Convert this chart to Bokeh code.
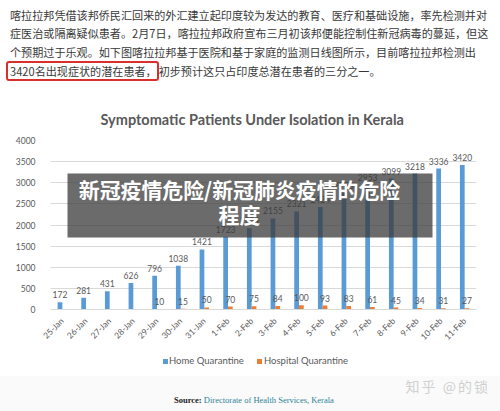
import numpy as np
from math import pi
from bokeh.plotting import figure
from bokeh.models import (ColumnDataSource, FactorRange, Range1d, FixedTicker,
                          BoxAnnotation, Label, Div)
from bokeh.transform import dodge
from bokeh.layouts import column
from bokeh.core.properties import value
from bokeh.embed import file_html
from bokeh.resources import INLINE

# ---------------- data ----------------
dates = ["25-Jan", "26-Jan", "27-Jan", "28-Jan", "29-Jan", "30-Jan", "31-Jan",
         "1-Feb", "2-Feb", "3-Feb", "4-Feb", "5-Feb", "6-Feb", "7-Feb",
         "8-Feb", "9-Feb", "10-Feb", "11-Feb"]
home = [172, 281, 431, 626, 796, 1038, 1421, 1723, 1924, 2155, 2321, 2424,
        2755, 2953, 3099, 3218, 3336, 3420]
hospital = [None, None, None, None, 10, 15, 50, 70, 75, 84, 100, 93, 83, 61,
            45, 34, 31, 27]
y_ticks = [0, 500, 1000, 1500, 2000, 2500, 3000, 3500, 4000]

paragraph = [
    "喀拉拉邦凭借该邦侨民汇回来的外汇建立起印度较为发达的教育、医疗和基础设施，率先检测并对",
    "症医治或隔离疑似患者。2月7日，喀拉拉邦政府宣布三月初该邦便能控制住新冠病毒的蔓延，但这",
    "个预期过于乐观。如下图喀拉拉邦基于医院和基于家庭的监测日线图所示，目前喀拉拉邦检测出",
]
highlight = "3420名出现症状的潜在患者，"
last_line_rest = "初步预计这只占印度总潜在患者的三分之一。"
chart_title = "Symptomatic Patients Under Isolation in Kerala"
series_names = ["Home Quarantine", "Hospital Quarantine"]
series_colors = ["#5b9bd5", "#ed7d31"]
overlay_lines = ["新冠疫情危险/新冠肺炎疫情的危险", "程度"]
source_label = "Source:"
source_text = "Directorate of Health Services, Kerala"
watermark = "知乎 @的锁"

W = 500
TOP_H = 93                              # paragraph block height
FL, FR, FT, FB = 50, 476, 140, 309      # chart frame edges (page pixels)
CHART_BOTTOM = 350                      # end of the bokeh canvas
LEGEND_BOTTOM = 376
PAGE_H = 411
CJK = "Noto Sans CJK SC"
LATO = "Lato"
GREY = "#595959"
NCAT = len(dates)
YMAX = y_ticks[-1]


def fx(px):
    """page x pixel -> synthetic x coordinate (decorations only)"""
    return (px - FL) * NCAT / (FR - FL)


def fy(py):
    """page y pixel (from top) -> data y (decorations only)"""
    return YMAX * (FB - py) / (FB - FT)


# ---------------- paragraph above the chart ----------------
lines_html = "<br>".join(paragraph)
top_html = (
    f"<div style=\"font-family:'{CJK}';font-size:11.1px;color:#383838;"
    f"line-height:18.7px;padding:5.6px 0 0 10px;white-space:nowrap;\">"
    f"{lines_html}<br>"
    f"<span style=\"border:2px solid #d9302c;border-radius:3px;"
    f"margin-left:-4px;padding:0 0 0 2px;\">{highlight}</span>{last_line_rest}"
    f"</div>"
)
top_div = Div(text=top_html, width=W, height=TOP_H, margin=0,
              styles={"overflow": "hidden", "background-color": "white"})

# ---------------- chart ----------------
hosp_arr = np.array([np.nan if v is None else v for v in hospital], dtype=float)
src = ColumnDataSource(dict(
    date=dates,
    home=home,
    hospital=hosp_arr,
    home_lbl=[str(v) for v in home],
    hosp_lbl=["" if v is None else str(v) for v in hospital],
))

p = figure(frame_width=FR - FL, frame_height=FB - FT,
           x_range=FactorRange(*dates), y_range=Range1d(0, YMAX),
           output_backend="svg", toolbar_location=None, title=chart_title,
           min_border_left=FL, min_border_right=W - FR,
           min_border_top=FT - TOP_H, min_border_bottom=CHART_BOTTOM - FB,
           margin=0)
p.background_fill_color = "white"
p.border_fill_color = "white"
p.outline_line_color = None

p.vbar(x=dodge("date", -0.1, range=p.x_range), top="home", width=0.2,
       source=src, fill_color=series_colors[0], line_color=None)
p.vbar(x=dodge("date", 0.1, range=p.x_range), top="hospital", width=0.2,
       source=src, fill_color=series_colors[1], line_color=None)

p.text(x=dodge("date", -0.1, range=p.x_range), y="home", text="home_lbl",
       source=src, text_align="center", text_baseline="bottom", y_offset=-4,
       text_font=value(LATO), text_font_size="8.5px", text_color=GREY)
p.text(x=dodge("date", 0.1, range=p.x_range), y="hospital", text="hosp_lbl",
       source=src, text_align="center", text_baseline="bottom", y_offset=-4,
       text_font=value(LATO), text_font_size="8.5px", text_color=GREY)

p.title.text_font = LATO
p.title.text_font_size = "14.5px"
p.title.text_font_style = "bold"
p.title.text_color = GREY
p.title.align = "left"
p.title.offset = 50
p.title.standoff = 25

p.xaxis.axis_line_color = "#d9d9d9"
p.xaxis.major_tick_line_color = None
p.xaxis.minor_tick_line_color = None
p.xaxis.major_label_orientation = pi / 4
p.xaxis.major_label_text_font = LATO
p.xaxis.major_label_text_font_size = "8.5px"
p.xaxis.major_label_text_color = GREY
p.xaxis.major_label_standoff = 4

p.yaxis.ticker = FixedTicker(ticks=y_ticks)
p.yaxis.axis_line_color = None
p.yaxis.major_tick_line_color = None
p.yaxis.minor_tick_line_color = None
p.yaxis.major_label_text_font = LATO
p.yaxis.major_label_text_font_size = "8.5px"
p.yaxis.major_label_text_color = GREY
p.yaxis.major_label_standoff = 9

p.xgrid.grid_line_color = None
p.ygrid.grid_line_color = "#d9d9d9"

# overlay banner
p.add_layout(BoxAnnotation(left=fx(67), right=fx(432), bottom=fy(237), top=fy(173),
                           fill_color="#3a3a3a", fill_alpha=0.75,
                           line_color=None))
for txt, py in zip(overlay_lines, [188, 213]):
    p.add_layout(Label(x=fx(239), y=fy(py), text=txt, text_align="center",
                       text_baseline="middle", text_font=CJK,
                       text_font_size="20.9px", text_font_style="bold",
                       text_color="white"))

# ---------------- legend row (below the rotated date labels) ----------------
leg_h = LEGEND_BOTTOM - CHART_BOTTOM
sq_x = [163, 257]
txt_x = [169, 264]
leg_parts = []
for name, col, sx, tx in zip(series_names, series_colors, sq_x, txt_x):
    leg_parts.append(
        f"<div style=\"position:absolute;left:{sx}px;top:9px;width:5px;height:5px;"
        f"background:{col};\"></div>"
        f"<div style=\"position:absolute;left:{tx}px;top:5px;line-height:12px;"
        f"font-family:'{LATO}';font-size:9.5px;color:{GREY};white-space:nowrap;\">"
        f"{name}</div>")
leg_html = (f"<div style=\"position:relative;width:{W}px;height:{leg_h}px;\">"
            + "".join(leg_parts) + "</div>")
leg_div = Div(text=leg_html, width=W, height=leg_h, margin=0,
              styles={"overflow": "hidden", "background-color": "white"})

# ---------------- watermark + source ----------------
bot_h = PAGE_H - LEGEND_BOTTOM
bot_html = (
    f"<div style=\"position:relative;width:{W}px;height:{bot_h}px;\">"
    f"<div style=\"position:absolute;right:10px;top:0px;height:21px;"
    f"line-height:21px;font-family:'{CJK}';font-size:14px;letter-spacing:2px;"
    f"color:#d0d0d0;white-space:nowrap;\">{watermark}</div>"
    f"<div style=\"position:absolute;left:174px;top:18px;line-height:12px;"
    f"font-family:'Liberation Serif';font-size:8.5px;white-space:nowrap;\">"
    f"<b style=\"color:#222222\">{source_label}</b> "
    f"<span style=\"color:#2f8296\">{source_text}</span></div>"
    f"</div>"
)
bot_div = Div(text=bot_html, width=W, height=bot_h, margin=0,
              styles={"background-color": "#fafafa"})

layout = column(top_div, p, leg_div, bot_div, spacing=0)
open("out.html", "w").write(file_html(layout, INLINE))
